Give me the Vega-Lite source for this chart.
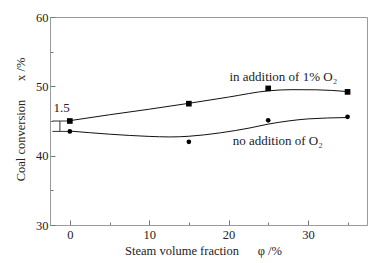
{
  "$schema": "https://vega.github.io/schema/vega-lite/v6.json",
  "autosize": "none",
  "width": 317,
  "height": 208,
  "padding": {"left": 50, "top": 17, "right": 15, "bottom": 38},
  "background": "white",
  "config": {
    "view": {"stroke": "#9a9a9a", "strokeWidth": 1},
    "font": "Liberation Serif",
    "axis": {
      "grid": false,
      "domainColor": "#9a9a9a",
      "tickColor": "#777777",
      "labelFont": "Liberation Serif",
      "titleFont": "Liberation Serif",
      "labelFontSize": 12.5,
      "titleFontSize": 12.5,
      "labelColor": "#222222",
      "titleColor": "#222222",
      "titleFontWeight": "normal"
    }
  },
  "datasets": {
    "points": [
      {"phi": 0, "conv": 45.0, "series": "with O2"},
      {"phi": 15, "conv": 47.5, "series": "with O2"},
      {"phi": 25, "conv": 49.7, "series": "with O2"},
      {"phi": 35, "conv": 49.2, "series": "with O2"},
      {"phi": 0, "conv": 43.5, "series": "no O2"},
      {"phi": 15, "conv": 42.0, "series": "no O2"},
      {"phi": 25, "conv": 45.1, "series": "no O2"},
      {"phi": 35, "conv": 45.6, "series": "no O2"}
    ],
    "curves": [
      {"phi": 0, "conv": 45.05, "series": "with O2"},
      {"phi": 5, "conv": 45.9, "series": "with O2"},
      {"phi": 10, "conv": 46.7, "series": "with O2"},
      {"phi": 15, "conv": 47.55, "series": "with O2"},
      {"phi": 20, "conv": 48.45, "series": "with O2"},
      {"phi": 25, "conv": 49.35, "series": "with O2"},
      {"phi": 28, "conv": 49.52, "series": "with O2"},
      {"phi": 31, "conv": 49.5, "series": "with O2"},
      {"phi": 35, "conv": 49.25, "series": "with O2"},
      {"phi": 0, "conv": 43.55, "series": "no O2"},
      {"phi": 5, "conv": 43.1, "series": "no O2"},
      {"phi": 10, "conv": 42.78, "series": "no O2"},
      {"phi": 12.6, "conv": 42.7, "series": "no O2"},
      {"phi": 15, "conv": 42.8, "series": "no O2"},
      {"phi": 19, "conv": 43.3, "series": "no O2"},
      {"phi": 22.7, "conv": 44.0, "series": "no O2"},
      {"phi": 25, "conv": 44.55, "series": "no O2"},
      {"phi": 27.5, "conv": 45.0, "series": "no O2"},
      {"phi": 30, "conv": 45.3, "series": "no O2"},
      {"phi": 35, "conv": 45.5, "series": "no O2"}
    ],
    "bracket": [
      {"x": -2.2, "x2": 0, "y": 45.0, "y2": 45.0},
      {"x": -2.2, "x2": 0, "y": 43.5, "y2": 43.5},
      {"x": -1.25, "x2": -1.25, "y": 45.0, "y2": 43.5}
    ],
    "labels": [
      {"phi": 26.9, "conv": 51.35, "text": "in addition of 1% O₂"},
      {"phi": 26.2, "conv": 42.1, "text": "no addition of O₂"},
      {"phi": -1.05, "conv": 46.9, "text": "1.5"}
    ]
  },
  "encoding": {
    "x": {
      "field": "phi",
      "type": "quantitative",
      "scale": {"domain": [-2.5, 37.45], "nice": false, "zero": false},
      "axis": {
        "title": "Steam volume fraction\u00a0\u00a0\u00a0\u00a0\u00a0\u00a0φ /%",
        "titleX": 153,
        "values": [0, 5, 10, 15, 20, 25, 30, 35],
        "labelExpr": "datum.value % 10 === 0 ? datum.label : ''",
        "tickSize": {"condition": {"test": "datum.value % 10 === 0", "value": -5}, "value": -3},
        "labelPadding": 8,
        "titlePadding": 4
      }
    },
    "y": {
      "field": "conv",
      "type": "quantitative",
      "scale": {"domain": [30, 60], "nice": false, "zero": false},
      "axis": {
        "title": "Coal conversion\u00a0\u00a0\u00a0\u00a0\u00a0\u00a0x /%",
        "titleY": 102,
        "values": [30, 35, 40, 45, 50, 55, 60],
        "labelExpr": "datum.value % 10 === 0 ? datum.label : ''",
        "tickSize": {"condition": {"test": "datum.value % 10 === 0", "value": -5}, "value": -3},
        "labelPadding": 7,
        "titlePadding": 8
      }
    }
  },
  "layer": [
    {
      "data": {"name": "curves"},
      "mark": {"type": "line", "interpolate": "monotone", "color": "#111111", "strokeWidth": 1},
      "encoding": {"detail": {"field": "series"}}
    },
    {
      "data": {"name": "bracket"},
      "mark": {"type": "rule", "color": "#333333", "strokeWidth": 1},
      "encoding": {
        "x": {"field": "x", "type": "quantitative"},
        "x2": {"field": "x2"},
        "y": {"field": "y", "type": "quantitative"},
        "y2": {"field": "y2"}
      }
    },
    {
      "data": {"name": "points"},
      "mark": {"type": "point", "filled": true, "color": "#000000", "opacity": 1},
      "encoding": {
        "shape": {"field": "series", "type": "nominal", "scale": {"domain": ["with O2", "no O2"], "range": ["square", "circle"]}, "legend": null},
        "size": {"field": "series", "type": "nominal", "scale": {"domain": ["with O2", "no O2"], "range": [32, 22]}, "legend": null}
      }
    },
    {
      "data": {"name": "labels"},
      "mark": {"type": "text", "font": "Liberation Serif", "fontSize": 13, "color": "#222222", "align": "center", "baseline": "middle"},
      "encoding": {"text": {"field": "text"}}
    }
  ]
}
